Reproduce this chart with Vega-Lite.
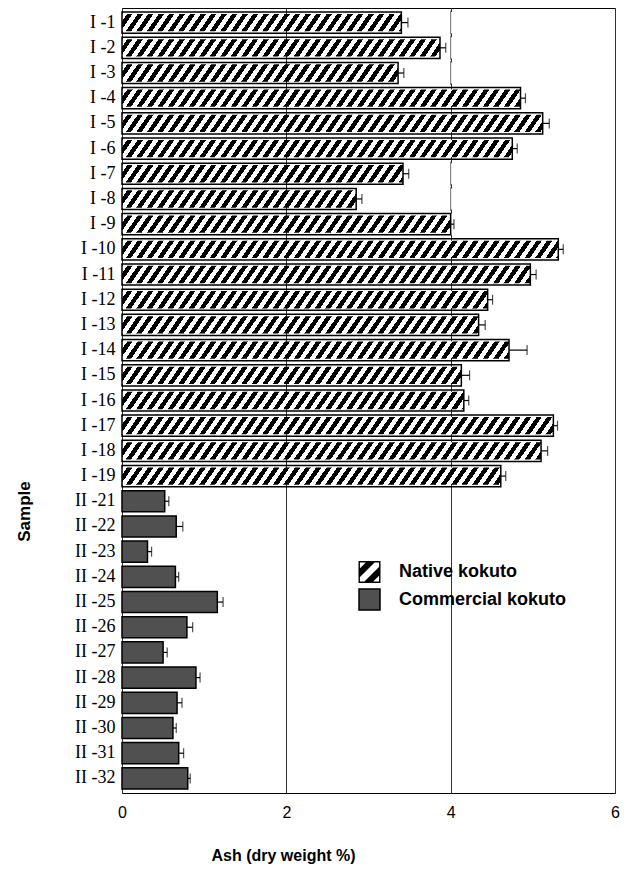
{
  "$schema": "https://vega.github.io/schema/vega-lite/v6.json",
  "width": 493,
  "height": 785,
  "autosize": "none",
  "padding": {"left": 122, "top": 8, "right": 18, "bottom": 76},
  "background": "white",
  "config": {
    "view": {"stroke": "black", "strokeWidth": 1},
    "font": "Liberation Sans"
  },
  "resolve": {"scale": {"fill": "independent"}, "legend": {"fill": "independent"}},
  "data": {
    "values": [
      {"sample": "I -1", "type": "Native kokuto", "ash": 3.40, "hi": 3.48},
      {"sample": "I -2", "type": "Native kokuto", "ash": 3.87, "hi": 3.94},
      {"sample": "I -3", "type": "Native kokuto", "ash": 3.36, "hi": 3.43},
      {"sample": "I -4", "type": "Native kokuto", "ash": 4.85, "hi": 4.91},
      {"sample": "I -5", "type": "Native kokuto", "ash": 5.12, "hi": 5.20},
      {"sample": "I -6", "type": "Native kokuto", "ash": 4.75, "hi": 4.81},
      {"sample": "I -7", "type": "Native kokuto", "ash": 3.42, "hi": 3.49},
      {"sample": "I -8", "type": "Native kokuto", "ash": 2.85, "hi": 2.92},
      {"sample": "I -9", "type": "Native kokuto", "ash": 4.00, "hi": 4.04},
      {"sample": "I -10", "type": "Native kokuto", "ash": 5.31, "hi": 5.37},
      {"sample": "I -11", "type": "Native kokuto", "ash": 4.97, "hi": 5.04},
      {"sample": "I -12", "type": "Native kokuto", "ash": 4.45, "hi": 4.51},
      {"sample": "I -13", "type": "Native kokuto", "ash": 4.34, "hi": 4.42},
      {"sample": "I -14", "type": "Native kokuto", "ash": 4.71, "hi": 4.93},
      {"sample": "I -15", "type": "Native kokuto", "ash": 4.13, "hi": 4.23},
      {"sample": "I -16", "type": "Native kokuto", "ash": 4.16, "hi": 4.22},
      {"sample": "I -17", "type": "Native kokuto", "ash": 5.25, "hi": 5.30},
      {"sample": "I -18", "type": "Native kokuto", "ash": 5.10, "hi": 5.18},
      {"sample": "I -19", "type": "Native kokuto", "ash": 4.61, "hi": 4.67},
      {"sample": "II -21", "type": "Commercial kokuto", "ash": 0.52, "hi": 0.57},
      {"sample": "II -22", "type": "Commercial kokuto", "ash": 0.66, "hi": 0.74},
      {"sample": "II -23", "type": "Commercial kokuto", "ash": 0.31, "hi": 0.36},
      {"sample": "II -24", "type": "Commercial kokuto", "ash": 0.65, "hi": 0.69},
      {"sample": "II -25", "type": "Commercial kokuto", "ash": 1.16, "hi": 1.23},
      {"sample": "II -26", "type": "Commercial kokuto", "ash": 0.79, "hi": 0.86},
      {"sample": "II -27", "type": "Commercial kokuto", "ash": 0.50, "hi": 0.55},
      {"sample": "II -28", "type": "Commercial kokuto", "ash": 0.90, "hi": 0.95},
      {"sample": "II -29", "type": "Commercial kokuto", "ash": 0.67, "hi": 0.73},
      {"sample": "II -30", "type": "Commercial kokuto", "ash": 0.62, "hi": 0.66},
      {"sample": "II -31", "type": "Commercial kokuto", "ash": 0.69, "hi": 0.75},
      {"sample": "II -32", "type": "Commercial kokuto", "ash": 0.80, "hi": 0.83}
    ]
  },
  "encoding": {
    "y": {
      "field": "sample",
      "type": "nominal",
      "sort": null,
      "scale": {"paddingInner": 0.16, "paddingOuter": 0.16},
      "axis": {
        "title": "Sample",
        "titleFont": "Liberation Sans",
        "titleFontSize": 17,
        "titleFontWeight": "bold",
        "titleColor": "black",
        "titleX": -93,
        "titleY": 503,
        "titleAlign": "center",
        "titleBaseline": "alphabetic",
        "titleAngle": 270,
        "labelFont": "Liberation Serif",
        "labelFontSize": 18,
        "labelColor": "black",
        "labelPadding": 7,
        "ticks": false,
        "domain": false
      }
    }
  },
  "layer": [
    {
      "transform": [{"filter": "datum.type === 'Native kokuto'"}],
      "mark": {
        "type": "bar",
        "height": {"band": 0.82},
        "fill": {
          "gradient": "linear", "x1": 0, "y1": 0, "x2": 1, "y2": 0.0243,
          "stops": [
            {"offset": 0, "color": "#fff"}, {"offset": 0.01064, "color": "#fff"}, {"offset": 0.01064, "color": "#000"}, {"offset": 0.02128, "color": "#000"},
            {"offset": 0.02128, "color": "#fff"}, {"offset": 0.03191, "color": "#fff"}, {"offset": 0.03191, "color": "#000"}, {"offset": 0.04255, "color": "#000"},
            {"offset": 0.04255, "color": "#fff"}, {"offset": 0.05319, "color": "#fff"}, {"offset": 0.05319, "color": "#000"}, {"offset": 0.06383, "color": "#000"},
            {"offset": 0.06383, "color": "#fff"}, {"offset": 0.07447, "color": "#fff"}, {"offset": 0.07447, "color": "#000"}, {"offset": 0.08511, "color": "#000"},
            {"offset": 0.08511, "color": "#fff"}, {"offset": 0.09574, "color": "#fff"}, {"offset": 0.09574, "color": "#000"}, {"offset": 0.10638, "color": "#000"},
            {"offset": 0.10638, "color": "#fff"}, {"offset": 0.11702, "color": "#fff"}, {"offset": 0.11702, "color": "#000"}, {"offset": 0.12766, "color": "#000"},
            {"offset": 0.12766, "color": "#fff"}, {"offset": 0.1383, "color": "#fff"}, {"offset": 0.1383, "color": "#000"}, {"offset": 0.14894, "color": "#000"},
            {"offset": 0.14894, "color": "#fff"}, {"offset": 0.15957, "color": "#fff"}, {"offset": 0.15957, "color": "#000"}, {"offset": 0.17021, "color": "#000"},
            {"offset": 0.17021, "color": "#fff"}, {"offset": 0.18085, "color": "#fff"}, {"offset": 0.18085, "color": "#000"}, {"offset": 0.19149, "color": "#000"},
            {"offset": 0.19149, "color": "#fff"}, {"offset": 0.20213, "color": "#fff"}, {"offset": 0.20213, "color": "#000"}, {"offset": 0.21277, "color": "#000"},
            {"offset": 0.21277, "color": "#fff"}, {"offset": 0.2234, "color": "#fff"}, {"offset": 0.2234, "color": "#000"}, {"offset": 0.23404, "color": "#000"},
            {"offset": 0.23404, "color": "#fff"}, {"offset": 0.24468, "color": "#fff"}, {"offset": 0.24468, "color": "#000"}, {"offset": 0.25532, "color": "#000"},
            {"offset": 0.25532, "color": "#fff"}, {"offset": 0.26596, "color": "#fff"}, {"offset": 0.26596, "color": "#000"}, {"offset": 0.2766, "color": "#000"},
            {"offset": 0.2766, "color": "#fff"}, {"offset": 0.28723, "color": "#fff"}, {"offset": 0.28723, "color": "#000"}, {"offset": 0.29787, "color": "#000"},
            {"offset": 0.29787, "color": "#fff"}, {"offset": 0.30851, "color": "#fff"}, {"offset": 0.30851, "color": "#000"}, {"offset": 0.31915, "color": "#000"},
            {"offset": 0.31915, "color": "#fff"}, {"offset": 0.32979, "color": "#fff"}, {"offset": 0.32979, "color": "#000"}, {"offset": 0.34043, "color": "#000"},
            {"offset": 0.34043, "color": "#fff"}, {"offset": 0.35106, "color": "#fff"}, {"offset": 0.35106, "color": "#000"}, {"offset": 0.3617, "color": "#000"},
            {"offset": 0.3617, "color": "#fff"}, {"offset": 0.37234, "color": "#fff"}, {"offset": 0.37234, "color": "#000"}, {"offset": 0.38298, "color": "#000"},
            {"offset": 0.38298, "color": "#fff"}, {"offset": 0.39362, "color": "#fff"}, {"offset": 0.39362, "color": "#000"}, {"offset": 0.40426, "color": "#000"},
            {"offset": 0.40426, "color": "#fff"}, {"offset": 0.41489, "color": "#fff"}, {"offset": 0.41489, "color": "#000"}, {"offset": 0.42553, "color": "#000"},
            {"offset": 0.42553, "color": "#fff"}, {"offset": 0.43617, "color": "#fff"}, {"offset": 0.43617, "color": "#000"}, {"offset": 0.44681, "color": "#000"},
            {"offset": 0.44681, "color": "#fff"}, {"offset": 0.45745, "color": "#fff"}, {"offset": 0.45745, "color": "#000"}, {"offset": 0.46809, "color": "#000"},
            {"offset": 0.46809, "color": "#fff"}, {"offset": 0.47872, "color": "#fff"}, {"offset": 0.47872, "color": "#000"}, {"offset": 0.48936, "color": "#000"},
            {"offset": 0.48936, "color": "#fff"}, {"offset": 0.5, "color": "#fff"}, {"offset": 0.5, "color": "#000"}, {"offset": 0.51064, "color": "#000"},
            {"offset": 0.51064, "color": "#fff"}, {"offset": 0.52128, "color": "#fff"}, {"offset": 0.52128, "color": "#000"}, {"offset": 0.53191, "color": "#000"},
            {"offset": 0.53191, "color": "#fff"}, {"offset": 0.54255, "color": "#fff"}, {"offset": 0.54255, "color": "#000"}, {"offset": 0.55319, "color": "#000"},
            {"offset": 0.55319, "color": "#fff"}, {"offset": 0.56383, "color": "#fff"}, {"offset": 0.56383, "color": "#000"}, {"offset": 0.57447, "color": "#000"},
            {"offset": 0.57447, "color": "#fff"}, {"offset": 0.58511, "color": "#fff"}, {"offset": 0.58511, "color": "#000"}, {"offset": 0.59574, "color": "#000"},
            {"offset": 0.59574, "color": "#fff"}, {"offset": 0.60638, "color": "#fff"}, {"offset": 0.60638, "color": "#000"}, {"offset": 0.61702, "color": "#000"},
            {"offset": 0.61702, "color": "#fff"}, {"offset": 0.62766, "color": "#fff"}, {"offset": 0.62766, "color": "#000"}, {"offset": 0.6383, "color": "#000"},
            {"offset": 0.6383, "color": "#fff"}, {"offset": 0.64894, "color": "#fff"}, {"offset": 0.64894, "color": "#000"}, {"offset": 0.65957, "color": "#000"},
            {"offset": 0.65957, "color": "#fff"}, {"offset": 0.67021, "color": "#fff"}, {"offset": 0.67021, "color": "#000"}, {"offset": 0.68085, "color": "#000"},
            {"offset": 0.68085, "color": "#fff"}, {"offset": 0.69149, "color": "#fff"}, {"offset": 0.69149, "color": "#000"}, {"offset": 0.70213, "color": "#000"},
            {"offset": 0.70213, "color": "#fff"}, {"offset": 0.71277, "color": "#fff"}, {"offset": 0.71277, "color": "#000"}, {"offset": 0.7234, "color": "#000"},
            {"offset": 0.7234, "color": "#fff"}, {"offset": 0.73404, "color": "#fff"}, {"offset": 0.73404, "color": "#000"}, {"offset": 0.74468, "color": "#000"},
            {"offset": 0.74468, "color": "#fff"}, {"offset": 0.75532, "color": "#fff"}, {"offset": 0.75532, "color": "#000"}, {"offset": 0.76596, "color": "#000"},
            {"offset": 0.76596, "color": "#fff"}, {"offset": 0.7766, "color": "#fff"}, {"offset": 0.7766, "color": "#000"}, {"offset": 0.78723, "color": "#000"},
            {"offset": 0.78723, "color": "#fff"}, {"offset": 0.79787, "color": "#fff"}, {"offset": 0.79787, "color": "#000"}, {"offset": 0.80851, "color": "#000"},
            {"offset": 0.80851, "color": "#fff"}, {"offset": 0.81915, "color": "#fff"}, {"offset": 0.81915, "color": "#000"}, {"offset": 0.82979, "color": "#000"},
            {"offset": 0.82979, "color": "#fff"}, {"offset": 0.84043, "color": "#fff"}, {"offset": 0.84043, "color": "#000"}, {"offset": 0.85106, "color": "#000"},
            {"offset": 0.85106, "color": "#fff"}, {"offset": 0.8617, "color": "#fff"}, {"offset": 0.8617, "color": "#000"}, {"offset": 0.87234, "color": "#000"},
            {"offset": 0.87234, "color": "#fff"}, {"offset": 0.88298, "color": "#fff"}, {"offset": 0.88298, "color": "#000"}, {"offset": 0.89362, "color": "#000"},
            {"offset": 0.89362, "color": "#fff"}, {"offset": 0.90426, "color": "#fff"}, {"offset": 0.90426, "color": "#000"}, {"offset": 0.91489, "color": "#000"},
            {"offset": 0.91489, "color": "#fff"}, {"offset": 0.92553, "color": "#fff"}, {"offset": 0.92553, "color": "#000"}, {"offset": 0.93617, "color": "#000"},
            {"offset": 0.93617, "color": "#fff"}, {"offset": 0.94681, "color": "#fff"}, {"offset": 0.94681, "color": "#000"}, {"offset": 0.95745, "color": "#000"},
            {"offset": 0.95745, "color": "#fff"}, {"offset": 0.96809, "color": "#fff"}, {"offset": 0.96809, "color": "#000"}, {"offset": 0.97872, "color": "#000"},
            {"offset": 0.97872, "color": "#fff"}, {"offset": 0.98936, "color": "#fff"}, {"offset": 0.98936, "color": "#000"}, {"offset": 1, "color": "#000"}
          ]
        }
      },
      "encoding": {
        "x": {
          "datum": 0,
          "type": "quantitative",
          "scale": {"domain": [0, 6], "nice": false, "zero": true},
          "axis": {
            "values": [0, 2, 4, 6],
            "format": "d",
            "grid": true,
            "gridColor": "#333",
            "gridWidth": 1,
            "ticks": false,
            "domain": false,
            "labelFont": "Liberation Sans",
            "labelFontSize": 16,
            "labelColor": "black",
            "labelPadding": 11,
            "labelFlush": false,
            "title": "Ash (dry weight %)",
            "titleFont": "Liberation Sans",
            "titleFontSize": 16,
            "titleFontWeight": "bold",
            "titleColor": "black",
            "titleX": 161,
            "titleY": 67,
            "titleAlign": "center",
            "titleBaseline": "alphabetic"
          }
        },
        "x2": {"datum": 6}
      }
    },
    {
      "transform": [{"filter": "datum.type === 'Native kokuto'"}],
      "mark": {"type": "bar", "fill": "white"},
      "encoding": {
        "x": {"field": "ash", "type": "quantitative"},
        "x2": {"datum": 6}
      }
    },
    {
      "transform": [{"filter": "datum.type === 'Native kokuto' && datum.ash < 4"}],
      "mark": {"type": "tick", "color": "#333", "thickness": 1, "size": 24, "orient": "vertical"},
      "encoding": {
        "x": {"datum": 4, "type": "quantitative"}
      }
    },
    {
      "mark": {"type": "bar", "stroke": "black", "strokeWidth": 1.5},
      "encoding": {
        "x": {"field": "ash", "type": "quantitative"},
        "fill": {
          "field": "type",
          "type": "nominal",
          "scale": {
            "domain": ["Native kokuto", "Commercial kokuto"],
            "range": ["rgba(0,0,0,0)", "#505050"]
          },
          "legend": {
            "values": ["Commercial kokuto"],
            "orient": "none",
            "legendX": 236,
            "legendY": 580,
            "title": null,
            "padding": 0,
            "symbolType": "square",
            "symbolSize": 441,
            "symbolStrokeColor": "black",
            "symbolStrokeWidth": 1.5,
            "symbolOpacity": 1,
            "labelFont": "Liberation Sans",
            "labelFontSize": 18,
            "labelFontWeight": "bold",
            "labelColor": "black",
            "labelOffset": 18,
            "labelLimit": 400
          }
        }
      }
    },
    {
      "mark": {"type": "rule", "color": "black", "strokeWidth": 1.2},
      "encoding": {
        "x": {"field": "ash", "type": "quantitative"},
        "x2": {"field": "hi"}
      }
    },
    {
      "mark": {"type": "tick", "color": "black", "thickness": 1.2, "size": 10, "orient": "vertical"},
      "encoding": {
        "x": {"field": "hi", "type": "quantitative"},
        "fill": {
          "field": "type",
          "type": "nominal",
          "scale": {
            "domain": ["Commercial kokuto", "Native kokuto"],
            "range": ["black", "black"]
          },
          "legend": {
            "values": ["Native kokuto"],
            "orient": "none",
            "legendX": 236.5,
            "legendY": 553,
            "title": null,
            "padding": 0,
            "symbolType": "M-1,-1L1,-1L1,1L-1,1Z M-0.87,-0.87L-0.87,0.87L0.87,0.87L0.87,-0.87Z M-1,-0.2L-0.2,-1L0.6,-1L-1,0.6Z M-0.6,1L1,-0.6L1,0.2L0.2,1Z",
            "symbolSize": 484,
            "symbolStrokeWidth": 0,
            "symbolOpacity": 1,
            "labelFont": "Liberation Sans",
            "labelFontSize": 18,
            "labelFontWeight": "bold",
            "labelColor": "black",
            "labelOffset": 18.5,
            "labelLimit": 400
          }
        }
      }
    }
  ]
}
